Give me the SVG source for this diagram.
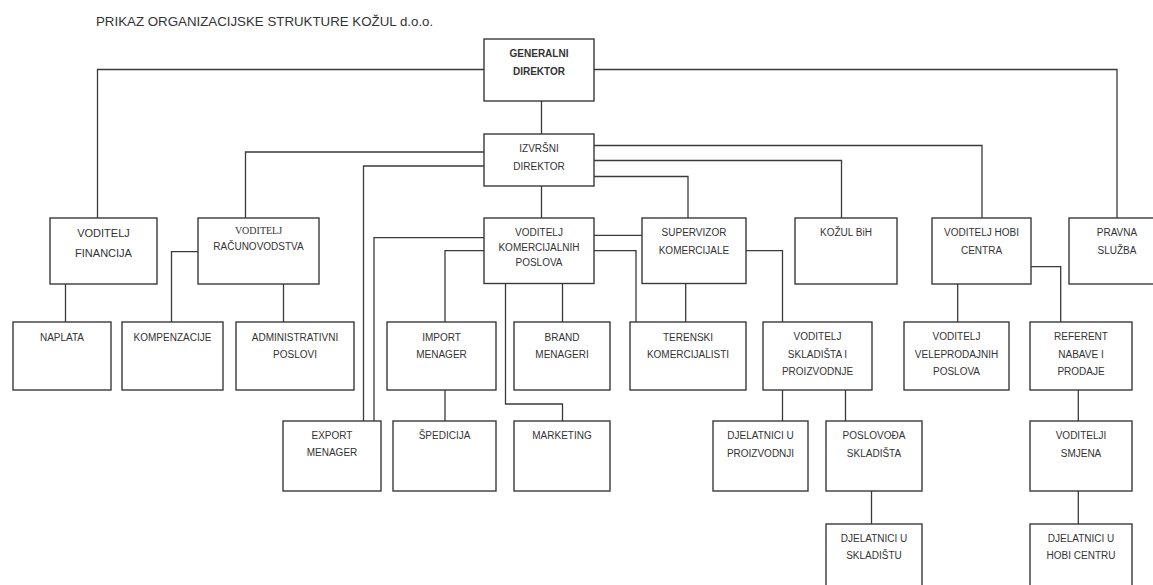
<svg xmlns="http://www.w3.org/2000/svg" width="1153" height="585" viewBox="0 0 1153 585">
<style>
.b{fill:#fff;stroke:#3a3a3a;stroke-width:1.4}
.c path{fill:none;stroke:#3a3a3a;stroke-width:1.3}
text{font-family:"Liberation Sans",Arial,sans-serif;font-size:10px;fill:#333;text-anchor:middle}
.t{text-anchor:start;font-size:13.3px}
.bd{font-weight:bold}
.l{font-size:11px}
.s{font-family:"Liberation Serif","Times New Roman",serif;font-size:10px}
</style>
<rect width="1153" height="585" fill="#fff"/>
<text class="t" x="96" y="26">PRIKAZ ORGANIZACIJSKE STRUKTURE KOŽUL d.o.o.</text>
<g class="c" id="connectors">
<path d="M484,69.5H97.5V218"/>
<path d="M594,69.5H1117V218"/>
<path d="M541.5,101V134"/>
<path d="M484,152H245.5V218"/>
<path d="M484,166H363.5V421"/>
<path d="M594,145.5H982V218"/>
<path d="M594,160.5H841.5V218"/>
<path d="M594,176.5H688V218"/>
<path d="M541.5,186V218"/>
<path d="M65.5,284V322"/>
<path d="M198,251.7H171.5V322"/>
<path d="M283.5,284V322"/>
<path d="M484,237.7H374V421"/>
<path d="M484,250.7H445V322"/>
<path d="M594,235.3H642"/>
<path d="M594,250.7H636V322"/>
<path d="M562.5,283.5V322"/>
<path d="M505.5,283.5V404H562.5V421"/>
<path d="M685.7,283.5V322"/>
<path d="M746,250.7H782.5V322"/>
<path d="M445,390V421"/>
<path d="M782.5,390V421"/>
<path d="M845.5,390V421"/>
<path d="M871.5,491V524"/>
<path d="M957.7,284V322"/>
<path d="M1031,266.7H1060.7V322"/>
<path d="M1078.3,390V421"/>
<path d="M1078.3,491V524"/>
</g>
<g id="generalni"><rect class="b" x="484" y="39" width="110" height="62"/><text class="bd" x="539" y="57">GENERALNI</text><text class="bd" x="539" y="74.6">DIREKTOR</text></g>
<g id="izvrsni"><rect class="b" x="484" y="134" width="110" height="52"/><text x="539" y="152">IZVRŠNI</text><text x="539" y="169.6">DIREKTOR</text></g>
<g id="financija"><rect class="b" x="50" y="218" width="107" height="66"/><text class="l" x="103.5" y="237">VODITELJ</text><text class="l" x="103.5" y="257">FINANCIJA</text></g>
<g id="racunovodstvo"><rect class="b" x="198" y="218" width="121" height="66"/><text class="s" x="258.5" y="233.5">VODITELJ</text><text x="258.5" y="249.6">RAČUNOVODSTVA</text></g>
<g id="komercijalni"><rect class="b" x="484" y="218" width="110" height="65.5"/><text x="539" y="236">VODITELJ</text><text x="539" y="251.3">KOMERCIJALNIH</text><text x="539" y="266.3">POSLOVA</text></g>
<g id="supervizor"><rect class="b" x="642" y="218" width="104" height="65.5"/><text x="694" y="236">SUPERVIZOR</text><text x="694" y="254">KOMERCIJALE</text></g>
<g id="kozulbih"><rect class="b" x="795" y="218" width="102" height="66"/><text x="846" y="236">KOŽUL BiH</text></g>
<g id="hobicentar"><rect class="b" x="932" y="218" width="99" height="66"/><text x="981.5" y="236.3">VODITELJ HOBI</text><text x="981.5" y="253.6">CENTRA</text></g>
<g id="pravna"><rect class="b" x="1069" y="218" width="97" height="66"/><text x="1117" y="236">PRAVNA</text><text x="1117" y="253.6">SLUŽBA</text></g>
<g id="naplata"><rect class="b" x="13" y="322" width="98" height="68"/><text x="62" y="341">NAPLATA</text></g>
<g id="kompenzacije"><rect class="b" x="122" y="322" width="101" height="68"/><text x="172.5" y="341">KOMPENZACIJE</text></g>
<g id="administrativni"><rect class="b" x="236" y="322" width="118" height="68"/><text x="295" y="341">ADMINISTRATIVNI</text><text x="295" y="358">POSLOVI</text></g>
<g id="import"><rect class="b" x="387" y="322" width="109" height="68"/><text x="441.5" y="340.5">IMPORT</text><text x="441.5" y="358">MENAGER</text></g>
<g id="brand"><rect class="b" x="514" y="322" width="96" height="68"/><text x="562" y="340.5">BRAND</text><text x="562" y="358">MENAGERI</text></g>
<g id="terenski"><rect class="b" x="630" y="322" width="116" height="68"/><text x="688" y="340.5">TERENSKI</text><text x="688" y="358">KOMERCIJALISTI</text></g>
<g id="skladiste"><rect class="b" x="763" y="322" width="109" height="68"/><text x="817.5" y="339.6">VODITELJ</text><text x="817.5" y="357.6">SKLADIŠTA I</text><text x="817.5" y="375">PROIZVODNJE</text></g>
<g id="veleprodaja"><rect class="b" x="904" y="322" width="105" height="68"/><text x="956.5" y="339.6">VODITELJ</text><text x="956.5" y="357.6">VELEPRODAJNIH</text><text x="956.5" y="375">POSLOVA</text></g>
<g id="referent"><rect class="b" x="1030" y="322" width="102" height="68"/><text x="1081" y="339.6">REFERENT</text><text x="1081" y="357.6">NABAVE I</text><text x="1081" y="375">PRODAJE</text></g>
<g id="export"><rect class="b" x="283" y="421" width="98" height="70"/><text x="332" y="438.6">EXPORT</text><text x="332" y="456.3">MENAGER</text></g>
<g id="spedicija"><rect class="b" x="393" y="421" width="103" height="70"/><text x="444.5" y="438.6">ŠPEDICIJA</text></g>
<g id="marketing"><rect class="b" x="514" y="421" width="96" height="70"/><text x="562" y="438.6">MARKETING</text></g>
<g id="djproizvodnja"><rect class="b" x="713" y="421" width="95" height="70"/><text x="760.5" y="438.6">DJELATNICI U</text><text x="760.5" y="456.6">PROIZVODNJI</text></g>
<g id="poslovodja"><rect class="b" x="826" y="421" width="96" height="70"/><text x="874" y="438.6">POSLOVOĐA</text><text x="874" y="456.6">SKLADIŠTA</text></g>
<g id="smjena"><rect class="b" x="1030" y="421" width="102" height="70"/><text x="1081" y="438.6">VODITELJI</text><text x="1081" y="456.6">SMJENA</text></g>
<g id="djskladiste"><rect class="b" x="826" y="524" width="96" height="70"/><text x="874" y="541.9">DJELATNICI U</text><text x="874" y="559.3">SKLADIŠTU</text></g>
<g id="djhobi"><rect class="b" x="1030" y="524" width="102" height="70"/><text x="1081" y="541.9">DJELATNICI U</text><text x="1081" y="559.3">HOBI CENTRU</text></g>
</svg>
